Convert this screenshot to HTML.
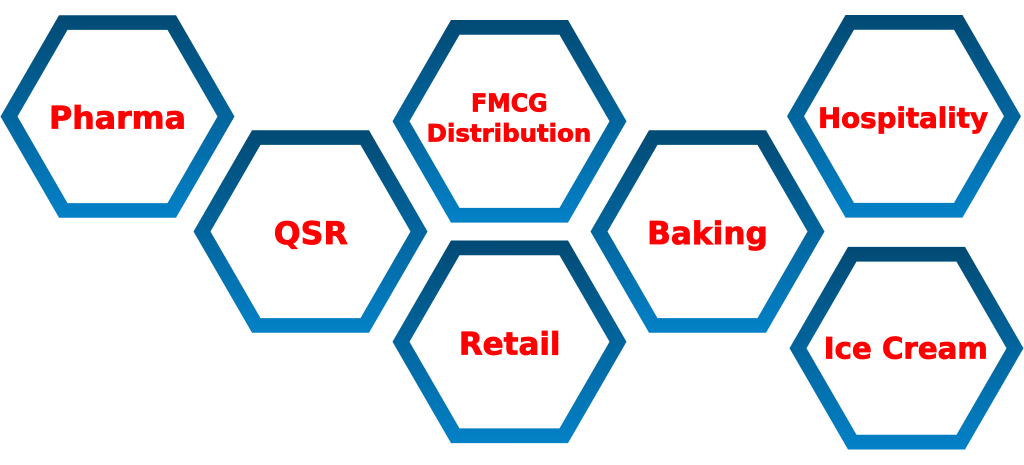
<!DOCTYPE html>
<html>
<head>
<meta charset="utf-8">
<style>
  html, body { margin: 0; padding: 0; background: #ffffff; }
  body { width: 1024px; height: 465px; overflow: hidden; }
  svg { display: block; }
  text { font-family: "DejaVu Sans", "Liberation Sans", sans-serif; font-weight: bold; fill: #ff0000; stroke: #ff0000; stroke-width: 0.8; text-anchor: middle; }
</style>
</head>
<body>
<svg width="1024" height="465" viewBox="0 0 1024 465" xmlns="http://www.w3.org/2000/svg">
  <defs>
    <linearGradient id="g" x1="0" y1="0" x2="0" y2="1">
      <stop offset="0" stop-color="#024a74"/>
      <stop offset="1" stop-color="#0381c7"/>
    </linearGradient>
    <path id="hex" fill="url(#g)" fill-rule="evenodd"
      d="M -117 0 L -58.5 -101.3 L 58.5 -101.3 L 117 0 L 58.5 101.3 L -58.5 101.3 Z
         M -100 0 L -50 -86.6 L 50 -86.6 L 100 0 L 50 86.6 L -50 86.6 Z"/>
  </defs>

  <use href="#hex" transform="translate(117.5,116.5)"/>
  <use href="#hex" transform="translate(310.5,231.5)"/>
  <use href="#hex" transform="translate(509.5,121.3)"/>
  <use href="#hex" transform="translate(509.5,341.8)"/>
  <use href="#hex" transform="translate(707.5,231.5)"/>
  <use href="#hex" transform="translate(904,116.3)"/>
  <use href="#hex" transform="translate(906.5,348.2)"/>

  <text x="117.5" y="128.6" font-size="31" textLength="137" lengthAdjust="spacingAndGlyphs">Pharma</text>
  <text x="310.8" y="244.2" font-size="31.5" textLength="74" lengthAdjust="spacingAndGlyphs">QSR</text>
  <text x="509.3" y="111.3" font-size="24.5" textLength="76.6" lengthAdjust="spacingAndGlyphs">FMCG</text>
  <text x="509" y="141.6" font-size="24" textLength="164.6" lengthAdjust="spacingAndGlyphs">Distribution</text>
  <text x="707.5" y="243.8" font-size="31.5" textLength="120.7" lengthAdjust="spacingAndGlyphs">Baking</text>
  <text x="509.7" y="354.6" font-size="31.5" textLength="101.7" lengthAdjust="spacingAndGlyphs">Retail</text>
  <text x="903" y="127.3" font-size="28" textLength="170" lengthAdjust="spacingAndGlyphs">Hospitality</text>
  <text x="905.8" y="358.6" font-size="29" textLength="164" lengthAdjust="spacingAndGlyphs">Ice Cream</text>
</svg>
</body>
</html>
